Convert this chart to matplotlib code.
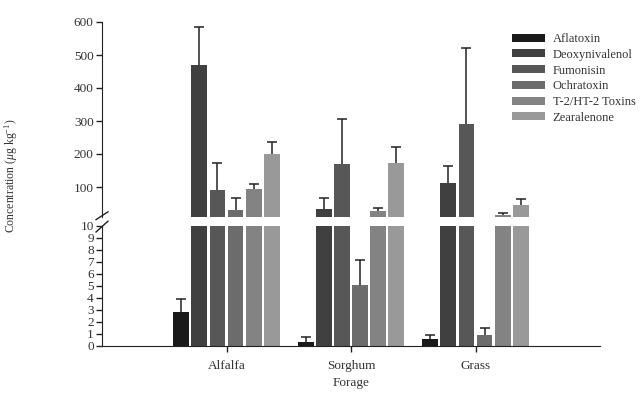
import matplotlib
matplotlib.use("Agg")
import matplotlib.pyplot as plt
import numpy as np

plt.rcParams['font.family'] = ['Liberation Serif', 'DejaVu Serif']
plt.rcParams['mathtext.fontset'] = 'custom'
plt.rcParams['mathtext.rm'] = 'Liberation Serif'
plt.rcParams['mathtext.it'] = 'Liberation Serif:italic'

forages = ['Alfalfa', 'Sorghum', 'Grass']
toxins = ['Aflatoxin', 'Deoxynivalenol', 'Fumonisin', 'Ochratoxin',
          'T-2/HT-2 Toxins', 'Zearalenone']

aflatoxin = [2.8, 0.36, 0.55]
deoxynivalenol = [470, 33, 113]
fumonisin = [91, 170, 290]
ochratoxin = [30, 5.1, 0.92]
t2_ht2 = [94, 28, 14]
zearalenone = [200, 172, 46]

aflatoxin_err = [1.15, 0.39, 0.35]
deoxynivalenol_err = [114, 35, 51]
fumonisin_err = [83, 136, 230]
ochratoxin_err = [38, 2.1, 0.58]
t2_ht2_err = [14, 8, 7]
zearalenone_err = [35, 49, 17]

values = [aflatoxin, deoxynivalenol, fumonisin, ochratoxin, t2_ht2, zearalenone]
errors = [aflatoxin_err, deoxynivalenol_err, fumonisin_err, ochratoxin_err,
          t2_ht2_err, zearalenone_err]
colors = ['#1a1a1a', '#404040', '#575757', '#6c6c6c', '#838383', '#999999']

PITCH = 0.145
WIDTH = 0.128
CAP_HALF = 0.04
TEXT_COLOR = '#333333'
LINE_COLOR = '#222222'

fig = plt.figure(figsize=(6.43, 3.93), dpi=100)
left, right = 102 / 643, 600 / 643
ax_top = fig.add_axes([left, 1 - 216.7 / 393, right - left, (216.7 - 22) / 393])
ax_bot = fig.add_axes([left, 1 - 346 / 393, right - left, (346 - 226) / 393])

x = np.arange(len(forages))
for i, (vals, errs, c) in enumerate(zip(values, errors, colors)):
    pos = x + (i - 2.5) * PITCH
    vals = np.array(vals)
    tops = vals + np.array(errs)
    for ax in (ax_top, ax_bot):
        ax.bar(pos, vals, width=WIDTH, color=c, zorder=2,
               label=toxins[i] if ax is ax_top else None)
        # one-sided (upper) error bars
        ax.vlines(pos, vals, tops, color=LINE_COLOR, lw=1.1, zorder=3)
        ax.hlines(tops, pos - CAP_HALF, pos + CAP_HALF, color=LINE_COLOR, lw=1.1, zorder=3)

ax_top.set_ylim(10, 600)
ax_top.set_yticks([100, 200, 300, 400, 500, 600])
ax_bot.set_ylim(0, 10)
ax_bot.set_yticks(range(0, 11))

for ax in (ax_top, ax_bot):
    ax.set_xlim(-1, 3)
    ax.spines['top'].set_visible(False)
    ax.spines['right'].set_visible(False)
    ax.spines['left'].set_color(LINE_COLOR)
    ax.tick_params(axis='y', direction='out', length=4, width=1, colors=LINE_COLOR,
                   labelsize=9.5, labelcolor=TEXT_COLOR, pad=2)

ax_top.spines['bottom'].set_visible(False)
ax_top.set_xticks([])
ax_bot.spines['bottom'].set_color(LINE_COLOR)
ax_bot.set_xticks(x)
ax_bot.set_xticklabels(forages)
ax_bot.tick_params(axis='x', direction='out', length=4, width=1, colors=LINE_COLOR,
                   labelsize=9.5, labelcolor=TEXT_COLOR, pad=6)
ax_bot.set_xlabel('Forage', fontsize=9.5, color=TEXT_COLOR, labelpad=4)

# break marks on the left spine
kw = dict(color=LINE_COLOR, clip_on=False, lw=1)
ax_top.plot([-0.012, 0.012], [-0.015, 0.025], transform=ax_top.transAxes, **kw)
ax_bot.plot([-0.012, 0.012], [0.95, 1.04], transform=ax_bot.transAxes, **kw)

fig.text(11 / 643, 1 - 176 / 393, r'Concentration ($\mu$g kg$^{-1}$)', rotation=90,
         va='center', ha='center', fontsize=8.5, color=TEXT_COLOR)

fig.legend(*ax_top.get_legend_handles_labels(), loc='upper left',
           bbox_to_anchor=(512 / 643, 1 - 33 / 393), frameon=False, fontsize=9,
           handlelength=2.6, handleheight=0.6, handletextpad=0.65, labelspacing=0.3,
           labelcolor=TEXT_COLOR, borderpad=0.0, borderaxespad=0.0)

fig.savefig('out.png', dpi=100)
